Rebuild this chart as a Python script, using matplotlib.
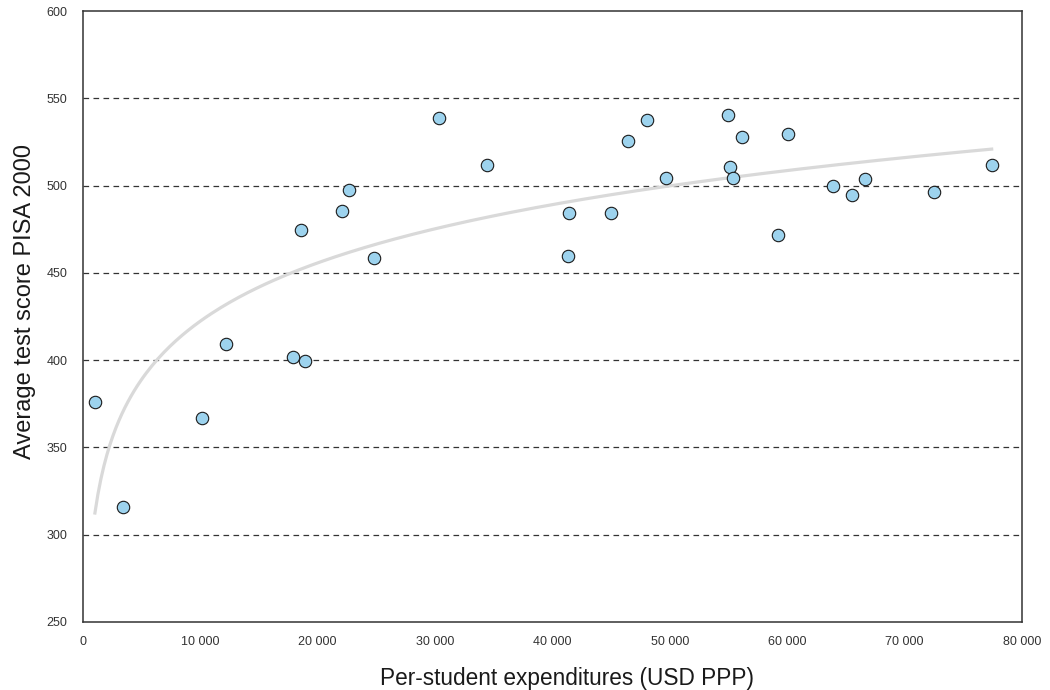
import numpy as np
import matplotlib
matplotlib.use("Agg")
import matplotlib.pyplot as plt
from matplotlib.ticker import FuncFormatter

# per-student expenditures (USD PPP) and PISA 2000 average scores
expenditures = [1020, 3410, 10140, 12160, 17870, 18910, 18570, 22070, 22660, 24770,
                30360, 34420, 41350, 41430, 44990, 46400, 48080, 49670, 54980, 55120,
                55410, 56150, 59190, 60070, 63870, 65550, 66600, 72480, 77420]
scores = [376, 316, 367, 409, 401.5, 399.5, 474.5, 485.5, 497.5, 458.5,
          538.5, 511.5, 459.5, 484.5, 484.5, 525.5, 537.5, 504.5, 540.5, 510.5,
          504.5, 528, 471.5, 529.5, 499.5, 494.5, 503.5, 496.5, 511.5]

x_ticks = [0, 10000, 20000, 30000, 40000, 50000, 60000, 70000, 80000]
y_ticks = [250, 300, 350, 400, 450, 500, 550, 600]

TICK_FONT = ["Liberation Sans", "DejaVu Sans"]
LABEL_FONT = ["Liberation Sans", "DejaVu Sans"]

fig = plt.figure(figsize=(10.5, 6.9), dpi=100)
ax = fig.add_axes([0.079, 0.0988, 0.8943, 0.8852])

# logarithmic trendline fitted to the data
xs = np.array(expenditures, dtype=float)
ys = np.array(scores, dtype=float)
b, a = np.polyfit(np.log(xs), ys, 1)
trend_x = np.linspace(xs.min(), xs.max(), 300)
ax.plot(trend_x, a + b * np.log(trend_x), color="#d9d9d9", linewidth=2.3, zorder=2)

ax.scatter(expenditures, scores, s=80, color="#9dd3ee", edgecolors="#1a1a1a",
           linewidths=0.8, zorder=3)

ax.set_xlim(0, 80000)
ax.set_ylim(250, 600)
ax.set_xticks(x_ticks)
ax.set_yticks(y_ticks)
ax.xaxis.set_major_formatter(FuncFormatter(lambda v, p: f"{int(v):,}".replace(",", " ")))

for yv in y_ticks[1:-1]:
    ax.axhline(yv, color="#333333", linewidth=0.9, dashes=(4.5, 3.5), zorder=1)

for side in ax.spines.values():
    side.set_color("#333333")
    side.set_linewidth(1.1)

ax.tick_params(axis="both", length=0, colors="#333333")
ax.tick_params(axis="x", pad=10)
ax.tick_params(axis="y", pad=11)
for lab in ax.get_xticklabels() + ax.get_yticklabels():
    lab.set_family(TICK_FONT)
    lab.set_fontsize(9)

ax.set_xlabel("Per-student expenditures (USD PPP)", family=LABEL_FONT, fontsize=16.3,
              color="#1a1a1a")
ax.set_ylabel("Average test score PISA 2000", family=LABEL_FONT, fontsize=17,
              color="#1a1a1a")
ax.xaxis.set_label_coords(0.516, -0.074)
ax.yaxis.set_label_coords(-0.05, 0.525)

fig.savefig("out.png", dpi=100)
